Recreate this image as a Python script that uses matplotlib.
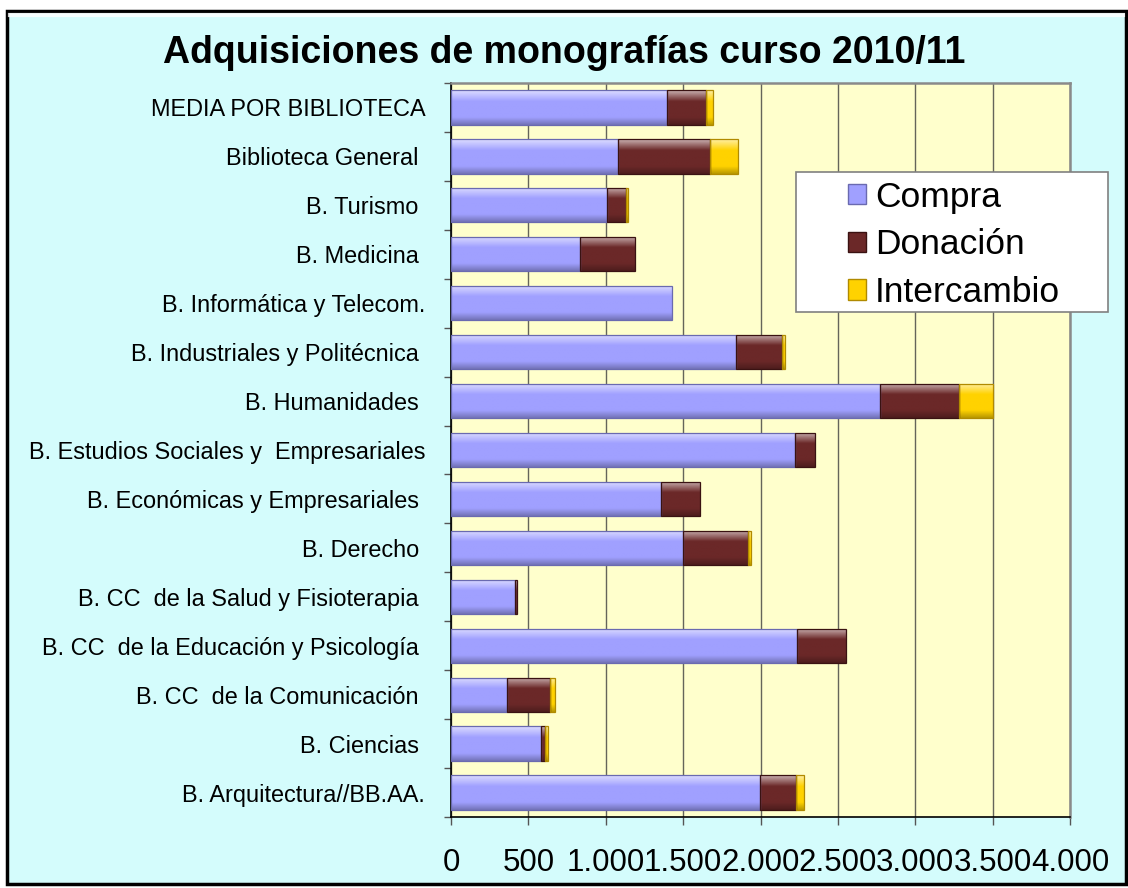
import numpy as np
import matplotlib
matplotlib.use("Agg")
import matplotlib.pyplot as plt
import matplotlib.colors as mcolors
from matplotlib.patches import Rectangle, Patch

plt.rcParams['font.family'] = ['Liberation Sans', 'DejaVu Sans']

# ---------------- data ----------------
categories = [
    "MEDIA POR BIBLIOTECA",
    "Biblioteca General ",
    "B. Turismo ",
    "B. Medicina ",
    "B. Informática y Telecom.",
    "B. Industriales y Politécnica ",
    "B. Humanidades ",
    "B. Estudios Sociales y  Empresariales",
    "B. Económicas y Empresariales ",
    "B. Derecho ",
    "B. CC  de la Salud y Fisioterapia ",
    "B. CC  de la Educación y Psicología ",
    "B. CC  de la Comunicación ",
    "B. Ciencias ",
    "B. Arquitectura//BB.AA.",
]
compra = [1398, 1077, 1008, 833, 1428, 1842, 2772, 2220, 1359, 1502, 412, 2239, 362, 581, 1996]
donacion = [252, 597, 123, 354, 0, 295, 508, 135, 248, 416, 13, 316, 279, 27, 235]
intercambio = [44, 179, 13, 0, 0, 19, 223, 0, 0, 22, 0, 0, 30, 18, 49]
series_names = ["Compra", "Donación", "Intercambio"]
x_ticks = [0, 500, 1000, 1500, 2000, 2500, 3000, 3500, 4000]
x_tick_labels = ["0", "500", "1.000", "1.500", "2.000", "2.500", "3.000", "3.500", "4.000"]
title = "Adquisiciones de monografías curso 2010/11"

# ---------------- style ----------------
col_compra = "#A0A0FF"
col_donacion = "#6B2828"
col_inter = "#FFD200"
edge_compra = "#6A6AB0"
edge_donacion = "#3A1212"
edge_inter = "#B08A00"

W, H = 1128, 888
fig = plt.figure(figsize=(W / 100, H / 100), dpi=100, facecolor="white")

# outer framed background
fig.patches.append(Rectangle((7 / W, 1 - 884 / H), (1126 - 7) / W, (884 - 11) / H,
                             transform=fig.transFigure, facecolor="#D4FCFC",
                             edgecolor="black", linewidth=2.5, zorder=-10))
fig.lines.append(plt.Line2D([10 / W, 1123 / W], [1 - 15 / H, 1 - 15 / H],
                            transform=fig.transFigure, color="white", lw=3, alpha=0.8, zorder=-9))

ax = fig.add_axes([451 / W, 1 - 817 / H, (1070 - 451) / W, (817 - 83) / H])
ax.set_facecolor("#FFFFCC")

y = np.arange(len(categories))
bh = 0.70
compra_a = np.array(compra, float)
don_a = np.array(donacion, float)
int_a = np.array(intercambio, float)


def shade(bars, base):
    base = np.array(mcolors.to_rgb(base))
    n = 80
    t = np.linspace(0, 1, n)
    white = np.clip(1 - t / 0.32, 0, 1) * 0.65
    dark = np.clip((t - 0.78) / 0.22, 0, 1) * 0.28
    cols = base[None, :] * (1 - white[:, None]) + white[:, None]
    cols = cols * (1 - dark[:, None])
    img = cols[:, None, :]
    for b in bars:
        x0, w = b.get_x(), b.get_width()
        y0, h = b.get_y(), b.get_height()
        if w <= 0:
            continue
        im = ax.imshow(img, extent=(x0, x0 + w, y0 + h, y0), origin="upper",
                       aspect="auto", zorder=2, interpolation="bilinear")
        im.set_clip_path(b)


b1 = ax.barh(y, compra_a, height=bh, facecolor="none", edgecolor=edge_compra, lw=0.9, zorder=3)
b2 = ax.barh(y, don_a, left=compra_a, height=bh, facecolor="none", edgecolor=edge_donacion, lw=0.9, zorder=3)
b3 = ax.barh(y, int_a, left=compra_a + don_a, height=bh, facecolor="none", edgecolor=edge_inter, lw=0.9, zorder=3)
for bars, c in ((b1, col_compra), (b2, col_donacion), (b3, col_inter)):
    for b in bars:
        if b.get_width() <= 0:
            b.set_visible(False)
    shade(bars, c)

ax.set_xlim(0, 4000)
ax.set_ylim(len(categories) - 0.5, -0.5)

# grid
ax.set_xticks(x_ticks)
ax.set_xticklabels(x_tick_labels)
ax.xaxis.grid(True, color="#65655A", lw=1.0)
ax.set_axisbelow(True)

# y ticks: labels at categories, tick marks at boundaries
ax.set_yticks(y)
ax.set_yticklabels(categories)
ax.set_yticks(np.arange(-0.5, len(categories), 1.0), minor=True)
ax.tick_params(axis="y", which="major", length=0, pad=18.5, labelsize=16.9)
ax.tick_params(axis="y", which="minor", length=5, width=1, color="#555555", direction="out")
ax.tick_params(axis="x", which="major", length=6, width=1, color="#555555",
               direction="out", labelsize=22.5, pad=16)

for s in ("left", "bottom"):
    ax.spines[s].set_color("black")
    ax.spines[s].set_linewidth(1.2)
for s in ("top", "right"):
    ax.spines[s].set_color("#8A8A8A")
    ax.spines[s].set_linewidth(1.8)

# title
fig.text(0.5, 1 - 63 / H, title, ha="center", va="baseline",
         fontsize=27, fontweight="bold")

# legend
fig.patches.append(Rectangle((796 / W, 1 - 312 / H), (1108 - 796) / W, (312 - 172) / H,
                             transform=fig.transFigure, facecolor="white",
                             edgecolor="#808080", linewidth=1.2, zorder=4))
handles = [Patch(facecolor=col_compra, edgecolor=edge_compra),
           Patch(facecolor=col_donacion, edgecolor=edge_donacion),
           Patch(facecolor=col_inter, edgecolor=edge_inter)]
leg = fig.legend(handles, series_names, loc="center",
                 bbox_to_anchor=(954 / W, 1 - 245 / H), bbox_transform=fig.transFigure,
                 frameon=False, fontsize=25.5, handlelength=0.52, handleheight=0.52,
                 handletextpad=0.25, labelspacing=0.42)
leg.set_zorder(5)

fig.savefig("out.png", dpi=100, facecolor=fig.get_facecolor())
